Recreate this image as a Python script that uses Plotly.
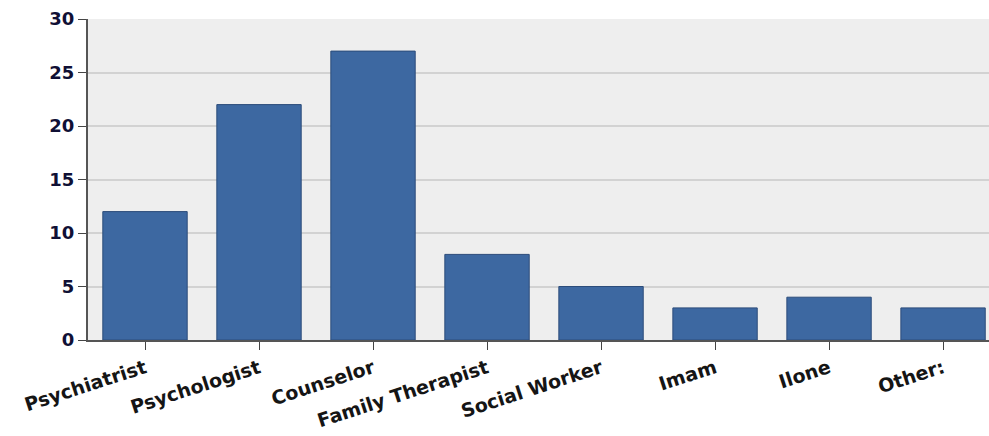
import plotly.graph_objects as go

categories = ["Psychiatrist", "Psychologist", "Counselor", "Family Therapist",
              "Social Worker", "Imam", "Ilone", "Other:"]
values = [12, 22, 27, 8, 5, 3, 4, 3]
y_ticks = [0, 5, 10, 15, 20, 25, 30]

fig = go.Figure()
fig.add_trace(go.Bar(
    x=categories, y=values,
    width=0.74,
    marker=dict(color="#3d68a1", line=dict(color="#2c4c7a", width=1)),
))

fig.update_layout(
    width=989, height=436,
    margin=dict(l=88, r=0, t=19, b=96),
    paper_bgcolor="white",
    plot_bgcolor="#eeeeee",
    showlegend=False,
    font=dict(family="DejaVu Sans, Verdana, sans-serif", color="#111111"),
    bargap=0.26,
)
fig.update_xaxes(
    range=[-0.5, 7.403],
    tickangle=-18,
    tickfont=dict(size=19, family="DejaVu Sans, Verdana, sans-serif", weight="bold", color="#151515"),
    ticks="outside", ticklen=8, tickcolor="#444444", tickwidth=1,
    showline=True, linecolor="#555555", linewidth=2,
    showgrid=False,
)
fig.update_yaxes(
    range=[0, 30],
    tickvals=y_ticks,
    tickfont=dict(size=18, family="DejaVu Sans, Verdana, sans-serif", weight="bold", color="#101035"),
    ticks="outside", ticklen=8, tickcolor="#444444", tickwidth=1,
    showline=True, linecolor="#555555", linewidth=2,
    showgrid=True, gridcolor="#d2d2d2", gridwidth=2,
    zeroline=False,
)

fig.write_html("out.html")
